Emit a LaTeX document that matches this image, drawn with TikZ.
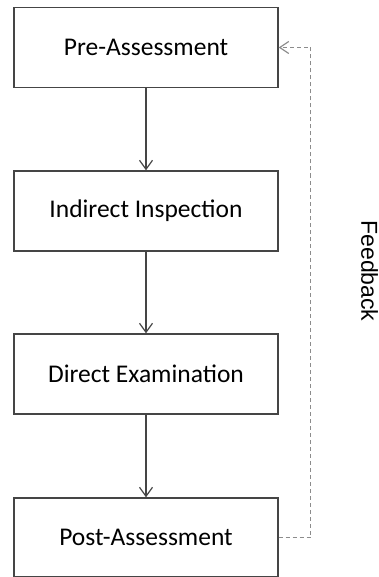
\documentclass[tikz,border=0pt]{standalone}
\usepackage{fontspec}
\setmainfont{Carlito}
\newfontfamily\fbfont{Liberation Sans}
\usetikzlibrary{arrows.meta}
\definecolor{boxline}{HTML}{454545}
\definecolor{fbline}{HTML}{8C8C8C}
\tikzset{
  stagebox/.style={draw=boxline,line width=1.4pt,minimum width=264pt,minimum height=80pt,
    inner sep=0pt,font=\fontsize{25.5}{30}\selectfont},
  flowarrow/.style={draw=boxline,line width=1.2pt,-{Straight Barb[length=9pt,width=13pt,line width=1.2pt]}},
  fbarrow/.style={draw=fbline,line width=1.3pt,dash pattern=on 4pt off 3pt,
    -{Straight Barb[length=9pt,width=12pt,line width=1.2pt]}}
}
\begin{document}
\begin{tikzpicture}[x=1pt,y=1pt]
\useasboundingbox (0,0) rectangle (379,-577);
\node[stagebox] (pre) at (146,-47.5) {Pre-Assessment};
\node[stagebox] (indirect) at (146,-211) {Indirect Inspection};
\node[stagebox] (direct) at (146,-374) {Direct Examination};
\node[stagebox,minimum height=79pt] (post) at (146,-537.5) {Post-Assessment};
\draw[flowarrow] (pre) -- (indirect);
\draw[flowarrow] (indirect) -- (direct);
\draw[flowarrow] (direct) -- (post);
% feedback loop
\coordinate (fbbot) at (310.7,-537.5);
\coordinate (fbtop) at (310.7,-47.5);
\draw[fbarrow] (post.east) -- (fbbot) -- (fbtop) -- (pre.east);
\node[font=\fbfont\fontsize{23}{27}\selectfont,rotate=-90] (fb) at (369.5,-271) {Feedback};
\end{tikzpicture}
\end{document}
